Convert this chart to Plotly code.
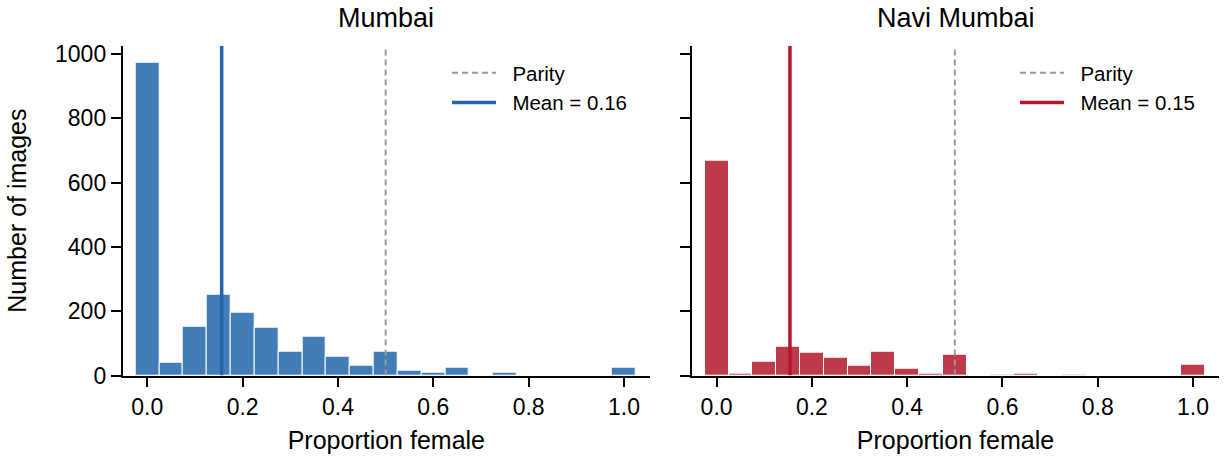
import plotly.graph_objects as go

# ---- data ----
bin_centers = [0.0, 0.05, 0.1, 0.15, 0.2, 0.25, 0.3, 0.35, 0.4, 0.45, 0.5,
               0.55, 0.6, 0.65, 0.7, 0.75, 0.8, 0.85, 0.9, 0.95, 1.0]
bin_width = 0.05
mumbai_counts = [972, 40, 151, 251, 194, 148, 74, 122, 60, 32, 74,
                 16, 8, 23, 0, 8, 0, 0, 0, 0, 25]
navi_counts = [667, 6, 44, 89, 72, 56, 31, 75, 20, 7, 66,
               0, 4, 7, 0, 3, 0, 0, 0, 0, 34]
mumbai_mean = 0.156
navi_mean = 0.154
parity = 0.5
titles = ["Mumbai", "Navi Mumbai"]
mean_labels = ["Mean = 0.16", "Mean = 0.15"]
parity_label = "Parity"
x_ticks = [0.0, 0.2, 0.4, 0.6, 0.8, 1.0]
y_ticks = [0, 200, 400, 600, 800, 1000]
y_max = 1026

blue_bar = "rgba(33,102,172,0.85)"
blue_line = "#2166ac"
red_bar = "rgba(178,24,43,0.85)"
red_line = "#b2182b"
grey = "#999999"

FONT = "Liberation Sans, Arial, Helvetica, sans-serif"
PAD = "\u00a0\u00a0"  # small gap between legend symbol and text

fig = go.Figure()

panels = [
    (mumbai_counts, mumbai_mean, blue_bar, blue_line, "x", "y", "legend", mean_labels[0]),
    (navi_counts, navi_mean, red_bar, red_line, "x2", "y2", "legend2", mean_labels[1]),
]
for counts, mean, barc, linec, xa, ya, lg, mlab in panels:
    fig.add_trace(go.Bar(
        x=bin_centers, y=counts, width=bin_width,
        marker=dict(color=barc, line=dict(color="white", width=1)),
        xaxis=xa, yaxis=ya, showlegend=False, hoverinfo="x+y",
    ))
    fig.add_trace(go.Scatter(
        x=[parity, parity], y=[0, y_max], mode="lines",
        line=dict(color=grey, width=2, dash="6px,4px"),
        name=PAD + parity_label, xaxis=xa, yaxis=ya, legend=lg,
    ))
    fig.add_trace(go.Scatter(
        x=[mean, mean], y=[0, y_max], mode="lines",
        line=dict(color=linec, width=3.5),
        name=PAD + mlab, xaxis=xa, yaxis=ya, legend=lg,
    ))

W, H = 1225, 461
x_dom1 = [122.7 / W, 650 / W]
x_dom2 = [692 / W, 1219 / W]
y_dom = [1 - 375.5 / H, 1 - 45.7 / H]

common_x = dict(
    range=[-0.0516, 1.0545], showline=True, linecolor="black", linewidth=1.8,
    ticks="outside", ticklen=10, tickwidth=1.8, tickcolor="black",
    tickvals=x_ticks, ticktext=[f"{v:.1f}" for v in x_ticks],
    showgrid=False, zeroline=False, tickfont=dict(size=23, color="black"),
    title=dict(text="Proportion female", font=dict(size=25, color="black"), standoff=12),
    automargin=False,
)
common_y = dict(
    range=[0, y_max], domain=y_dom, showline=True, linecolor="black", linewidth=1.8,
    ticks="outside", ticklen=10, tickwidth=1.8, tickcolor="black",
    tickvals=y_ticks, showgrid=False, zeroline=False,
    tickfont=dict(size=23, color="black"), automargin=False,
)

legend_common = dict(xanchor="left", yanchor="top", bgcolor="rgba(0,0,0,0)",
                     font=dict(size=20.5, color="black"), itemwidth=44,
                     tracegroupgap=0)

fig.update_layout(
    width=W, height=H,
    margin=dict(l=0, r=0, t=0, b=0),
    paper_bgcolor="white", plot_bgcolor="white",
    font=dict(family=FONT, color="black"),
    bargap=0,
    xaxis=dict(domain=x_dom1, anchor="y", **common_x),
    xaxis2=dict(domain=x_dom2, anchor="y2", **common_x),
    yaxis=dict(anchor="x", title=dict(text="Number of images", font=dict(size=25, color="black"), standoff=21), **common_y),
    yaxis2=dict(anchor="x2", matches="y", showticklabels=False, **common_y),
    legend=dict(x=447 / W, y=1 - 53 / H, **legend_common),
    legend2=dict(x=1015 / W, y=1 - 53 / H, **legend_common),
    showlegend=True,
)

for t, dom in zip(titles, [x_dom1, x_dom2]):
    fig.add_annotation(
        text=t, x=(dom[0] + dom[1]) / 2, y=1 - 18 / H, xref="paper", yref="paper",
        xanchor="center", yanchor="middle", showarrow=False,
        font=dict(size=27, color="black"),
    )

fig.write_html("out.html")
